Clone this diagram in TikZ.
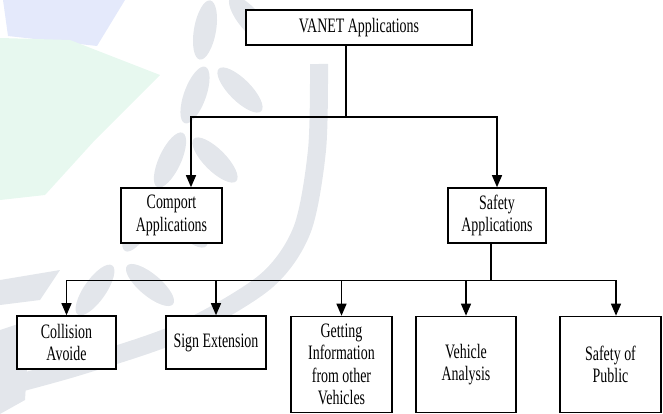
\documentclass[tikz,border=0pt]{standalone}
\usepackage{fontspec}
\setmainfont{Liberation Serif}[FakeStretch=0.68]
\usetikzlibrary{arrows.meta,calc}
\definecolor{wmgrey}{HTML}{E3E6EB}
\definecolor{wmblue}{HTML}{E4E9FB}
\definecolor{wmgreen}{HTML}{E7F8EF}
\tikzset{
  box/.style={draw=black, fill=white, line width=1.6pt, align=center, inner sep=0pt,
              font=\fontsize{20.5}{22.5}\selectfont},
  conn/.style={draw=black, line width=1.3pt},
  arr/.style={conn, -{Triangle[length=12pt,width=10pt]}},
  leaf/.style={fill=wmgrey}
}
\begin{document}
\begin{tikzpicture}[x=1pt,y=-1pt]
\useasboundingbox (0,0) rectangle (663,414);
% faint watermark in the background
\fill[wmblue] (3,0) -- (125,0) -- (97,46) -- (8,36) -- cycle;
\fill[wmgreen] (0,38) -- (70,40) -- (160,75) -- (95,140) -- (45,195) -- (0,200) -- cycle;
\draw[wmgrey, line width=18pt] plot[smooth] coordinates {(319,64) (317,150) (302,230) (265,282) (180,332) (80,366) (0,388)};
\foreach \x/\y/\a in {205/30/-10, 250/20/40, 195/95/-20, 240/90/45, 170/160/-25, 215/160/45, 140/225/-30, 185/225/45, 95/290/-35, 150/285/50}
  \fill[leaf, rotate around={\a:(\x,\y)}] (\x,\y) ellipse [x radius=11, y radius=30];
\fill[wmgrey] (0,280) -- (60,270) -- (40,300) -- (0,305) -- cycle;
\fill[wmgrey] (0,330) -- (30,320) -- (25,400) -- (0,414) -- cycle;
% boxes
\node[box, minimum width=226, minimum height=35] (vanet) at (359,27.5) {VANET Applications};
\node[box, minimum width=101, minimum height=55] (comport) at (171.5,215.5) {Comport\\Applications};
\node[box, minimum width=98, minimum height=55] (safety) at (497,215.5) {Safety\\Applications};
\node[box, minimum width=99, minimum height=53] (collision) at (66.5,342.5) {Collision\\Avoide};
\node[box, minimum width=100, minimum height=53] (sign) at (216,342.5) {Sign Extension};
\node[box, minimum width=101, minimum height=96] (getting) at (341.5,364.5) {Getting\\Information\\from other\\Vehicles};
\node[box, minimum width=100, minimum height=96] (vehicle) at (466,364.5) {Vehicle\\Analysis};
\node[box, minimum width=101, minimum height=96] (public) at (610.5,364.5) {Safety of\\Public};
% connectors
\coordinate (j1) at (346,117);
\coordinate (j2) at (491,280.5);
\draw[conn] (vanet.south -| j1) -- (j1);
\draw[arr] (j1) -| ([xshift=19.5pt]comport.north);
\draw[arr] (j1) -| (safety.north);
\draw[conn] (safety.south -| j2) -- (j2);
\draw[arr] (j2) -| (collision.north);
\draw[arr] (j2) -| (sign.north);
\draw[arr] (j2) -| (getting.north);
\draw[arr] (j2) -| (vehicle.north);
\draw[arr] (j2) -| ([xshift=5.5pt]public.north);
\end{tikzpicture}
\end{document}
